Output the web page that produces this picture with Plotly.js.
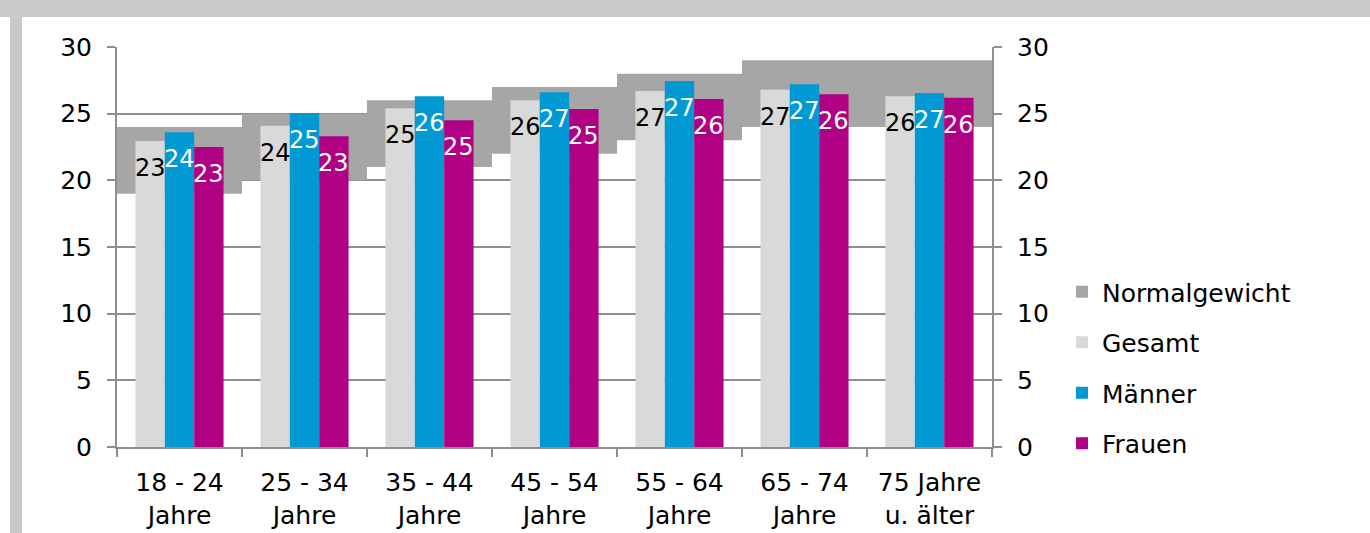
<!DOCTYPE html>
<html>
<head>
<meta charset="utf-8">
<script src="https://cdn.plot.ly/plotly-3.0.1.min.js"></script>
<style>
  html, body { margin: 0; padding: 0; background: #ffffff; width: 1370px; height: 533px; overflow: hidden; }
  #topstrip { position: absolute; left: 0; top: 0; width: 1370px; height: 17px; background: #c8c9cb; }
  #leftstrip { position: absolute; left: 10px; top: 0; width: 12px; height: 533px; background: #c8c9cb; }
  #chart { position: absolute; left: 0; top: 0; width: 1370px; height: 533px; }
</style>
</head>
<body>
<div id="topstrip"></div>
<div id="leftstrip"></div>
<div id="chart"></div>
<script>
// ---- data ----
const categories = ["18 - 24", "25 - 34", "35 - 44", "45 - 54", "55 - 64", "65 - 74", "75 Jahre"];
const tickLabels = ["18 - 24<br>Jahre", "25 - 34<br>Jahre", "35 - 44<br>Jahre", "45 - 54<br>Jahre", "55 - 64<br>Jahre", "65 - 74<br>Jahre", "75 Jahre<br>u. älter"];
const normalLow  = [19, 20, 21, 22, 23, 24, 24];
const normalHigh = [24, 25, 26, 27, 28, 29, 29];
const gesamt  = [22.95, 24.1, 25.4, 26.0, 26.7, 26.8, 26.3];
const maenner = [23.6, 25.05, 26.3, 26.6, 27.45, 27.2, 26.55];
const frauen  = [22.5, 23.3, 24.5, 25.35, 26.1, 26.45, 26.2];
const yTicks = [0, 5, 10, 15, 20, 25, 30];

// ---- style ----
const FONT = "'DejaVu Sans', 'Open Sans', sans-serif";
const C_NORMAL = "#a6a6a6", C_GES = "#d9d9d9", C_MAE = "#0099d3", C_FRA = "#b00084";
const AXIS = "#8e8e8e";
const M = {l: 117, r: 378, t: 47, b: 86};
const W = 1370, H = 533;
const BARGAP = 0.295;
const plotW = W - M.l - M.r;
const pxPerCat = plotW / categories.length;
const barPx = pxPerCat * (1 - BARGAP) / 3;

const bandHeight = normalHigh.map((h, i) => h - normalLow[i]);

const traces = [
  {type: "bar", name: "Normalgewicht", x: categories, y: bandHeight, base: normalLow,
   width: categories.map(() => 1), marker: {color: C_NORMAL}, xaxis: "x", yaxis: "y",
   legendgroup: "a", hoverinfo: "skip"},
  {type: "bar", name: "Gesamt", x: categories, y: gesamt, marker: {color: C_GES},
   xaxis: "x2", yaxis: "y", legendgroup: "b", hoverinfo: "skip"},
  {type: "bar", name: "Männer", x: categories, y: maenner, marker: {color: C_MAE},
   xaxis: "x2", yaxis: "y", legendgroup: "c", hoverinfo: "skip"},
  {type: "bar", name: "Frauen", x: categories, y: frauen, marker: {color: C_FRA},
   xaxis: "x2", yaxis: "y", legendgroup: "d", hoverinfo: "skip"},
  {type: "scatter", mode: "markers", x: [categories[0]], y: [null], xaxis: "x", yaxis: "y2",
   showlegend: false, hoverinfo: "skip", marker: {opacity: 0}}
];

const annotations = [];
[[gesamt, "#000000", -1], [maenner, "#ffffff", 0], [frauen, "#ffffff", 1]].forEach(([vals, col, k]) => {
  vals.forEach((v, i) => {
    annotations.push({
      x: categories[i], y: v, xref: "x2", yref: "y",
      text: String(Math.round(v)), showarrow: false,
      xanchor: "center", yanchor: "middle",
      xshift: k * barPx, yshift: -27,
      font: {family: FONT, size: 24, color: col}
    });
  });
});

const yAxisCommon = {
  range: [0, 30], tickvals: yTicks, ticktext: yTicks.map(String),
  showline: true, linecolor: AXIS, linewidth: 2,
  ticks: "outside", ticklen: 8, tickwidth: 2, tickcolor: AXIS,
  zeroline: false, fixedrange: true,
  tickfont: {family: FONT, size: 25, color: "#000000"}
};

const layout = {
  width: W, height: H, margin: M,
  paper_bgcolor: "rgba(0,0,0,0)", plot_bgcolor: "rgba(0,0,0,0)",
  barmode: "group", bargap: BARGAP, bargroupgap: 0,
  showlegend: true,
  legend: {x: 1.08, xanchor: "left", y: 0.445, yanchor: "top",
           font: {family: FONT, size: 25, color: "#000000"},
           tracegroupgap: 15, itemwidth: 30, bgcolor: "rgba(0,0,0,0)"},
  xaxis: {type: "category", range: [-0.5, 6.5], tickvals: categories, ticktext: tickLabels,
          tickson: "boundaries", ticks: "outside", ticklen: 8, tickwidth: 2, tickcolor: AXIS,
          showline: true, linecolor: AXIS, linewidth: 2, showgrid: false, zeroline: false,
          ticklabelstandoff: 12,
          tickfont: {family: FONT, size: 25, color: "#000000"}, fixedrange: true},
  xaxis2: {type: "category", range: [-0.5, 6.5], overlaying: "x", visible: false, fixedrange: true},
  yaxis: Object.assign({}, yAxisCommon, {showgrid: true, gridcolor: AXIS, gridwidth: 2, ticklabelstandoff: 10}),
  yaxis2: Object.assign({}, yAxisCommon, {overlaying: "y", side: "right", showgrid: false, ticklabelstandoff: 10}),
  annotations: annotations,
  font: {family: FONT}
};

Plotly.newPlot("chart", traces, layout, {displayModeBar: false, staticPlot: true});
</script>
</body>
</html>
